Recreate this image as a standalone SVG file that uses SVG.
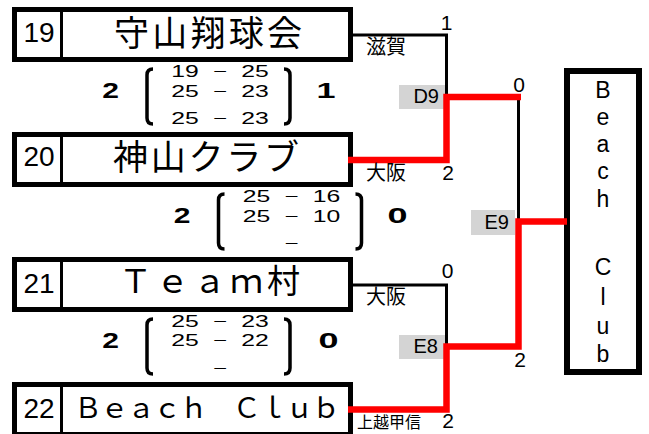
<svg xmlns="http://www.w3.org/2000/svg" width="649" height="434" viewBox="0 0 649 434">
<style>
.box{fill:#fff;stroke:#000;stroke-width:5}
.dv{stroke:#000;stroke-width:3}
.num{font-family:"Liberation Sans",Arial,sans-serif;font-size:28px;text-anchor:middle;fill:#000}
.name{font-family:"Noto Sans CJK JP","Noto Sans CJK SC",sans-serif;font-size:35px;text-anchor:middle;fill:#000}
.sc{font-family:"Liberation Sans",Arial,sans-serif;font-size:16.5px;text-anchor:middle;fill:#000}
.big{font-family:"Liberation Sans",Arial,sans-serif;font-size:22.5px;font-weight:bold;text-anchor:middle;fill:#000}
.br{fill:none;stroke:#000;stroke-width:3.5}
.ln{fill:none;stroke:#000;stroke-width:3}
.win{fill:none;stroke:#f00;stroke-width:6.5;stroke-linejoin:miter}
.lbl{font-family:"Noto Sans CJK JP","Noto Sans CJK SC",sans-serif;font-size:20px;fill:#000}
.tag{fill:#d4d4d4}
.tagt{font-family:"Liberation Sans",Arial,sans-serif;font-size:20px;text-anchor:end;fill:#000}
.rn{font-family:"Liberation Sans",Arial,sans-serif;font-size:21px;text-anchor:middle;fill:#000}
.vl{font-family:"Liberation Sans",Arial,sans-serif;font-size:23px;text-anchor:middle;fill:#000}
</style>

<g id="team19">
<rect class="box" x="14.5" y="9.5" width="336" height="50"/>
<line class="dv" x1="61.5" y1="12" x2="61.5" y2="57"/>
<text class="num" x="39" y="42">19</text>
<text class="name" x="208" y="46" textLength="188" lengthAdjust="spacing">守山翔球会</text>
</g>
<g id="team20">
<rect class="box" x="14.5" y="134.5" width="336" height="50"/>
<line class="dv" x1="61.5" y1="137" x2="61.5" y2="182"/>
<text class="num" x="39" y="166">20</text>
<text class="name" x="206" y="170" textLength="186" lengthAdjust="spacing">神山クラブ</text>
</g>
<g id="team21">
<rect class="box" x="14.5" y="259.5" width="336" height="50"/>
<line class="dv" x1="61.5" y1="262" x2="61.5" y2="307"/>
<text class="num" x="39" y="292.5">21</text>
<text class="name" x="209.5" y="293" style="font-size:33px" textLength="181" lengthAdjust="spacing">Ｔｅａｍ村</text>
</g>
<g id="team22">
<rect class="box" x="14.5" y="384.5" width="336" height="50"/>
<line class="dv" x1="61.5" y1="387" x2="61.5" y2="432"/>
<text class="num" x="39" y="417.5">22</text>
<text class="name" x="207" y="418" style="font-size:28px" textLength="266" lengthAdjust="spacing">Ｂｅａｃｈ　Ｃｌｕｂ</text>
</g>

<g id="match1" transform="translate(0,97)">
<text class="big" x="110.5" y="1" textLength="16.7" lengthAdjust="spacingAndGlyphs">2</text>
<path class="br" d="M153,-28 Q147,-28 147,-22 V21 Q147,27 153,27"/>
<text class="sc" x="185" y="-20.5" textLength="27.5" lengthAdjust="spacingAndGlyphs">19</text>
<text class="sc" x="220" y="-20.5" textLength="14" lengthAdjust="spacingAndGlyphs">−</text>
<text class="sc" x="255" y="-20.5" textLength="27.5" lengthAdjust="spacingAndGlyphs">25</text>
<text class="sc" x="185" y="-0.5" textLength="27.5" lengthAdjust="spacingAndGlyphs">25</text>
<text class="sc" x="220" y="-0.5" textLength="14" lengthAdjust="spacingAndGlyphs">−</text>
<text class="sc" x="255" y="-0.5" textLength="27.5" lengthAdjust="spacingAndGlyphs">23</text>
<text class="sc" x="185" y="27" textLength="27.5" lengthAdjust="spacingAndGlyphs">25</text>
<text class="sc" x="220" y="27" textLength="14" lengthAdjust="spacingAndGlyphs">−</text>
<text class="sc" x="255" y="27" textLength="27.5" lengthAdjust="spacingAndGlyphs">23</text>
<path class="br" d="M284,-28 Q290,-28 290,-22 V21 Q290,27 284,27"/>
<text class="big" x="326" y="1" textLength="19" lengthAdjust="spacingAndGlyphs">1</text>
</g>

<g id="match2" transform="translate(71.5,222)">
<text class="big" x="110.5" y="1" textLength="16.7" lengthAdjust="spacingAndGlyphs">2</text>
<path class="br" d="M153,-28 Q147,-28 147,-22 V21 Q147,27 153,27"/>
<text class="sc" x="185" y="-20.5" textLength="27.5" lengthAdjust="spacingAndGlyphs">25</text>
<text class="sc" x="220" y="-20.5" textLength="14" lengthAdjust="spacingAndGlyphs">−</text>
<text class="sc" x="255" y="-20.5" textLength="27.5" lengthAdjust="spacingAndGlyphs">16</text>
<text class="sc" x="185" y="-0.5" textLength="27.5" lengthAdjust="spacingAndGlyphs">25</text>
<text class="sc" x="220" y="-0.5" textLength="14" lengthAdjust="spacingAndGlyphs">−</text>
<text class="sc" x="255" y="-0.5" textLength="27.5" lengthAdjust="spacingAndGlyphs">10</text>
<text class="sc" x="220" y="27" textLength="14" lengthAdjust="spacingAndGlyphs">−</text>
<path class="br" d="M284,-28 Q290,-28 290,-22 V21 Q290,27 284,27"/>
<text class="big" x="326" y="1" textLength="20" lengthAdjust="spacingAndGlyphs">0</text>
</g>

<g id="match3" transform="translate(0,347)">
<text class="big" x="110.5" y="1" textLength="16.7" lengthAdjust="spacingAndGlyphs">2</text>
<path class="br" d="M153,-28 Q147,-28 147,-22 V21 Q147,27 153,27"/>
<text class="sc" x="185" y="-20.5" textLength="27.5" lengthAdjust="spacingAndGlyphs">25</text>
<text class="sc" x="220" y="-20.5" textLength="14" lengthAdjust="spacingAndGlyphs">−</text>
<text class="sc" x="255" y="-20.5" textLength="27.5" lengthAdjust="spacingAndGlyphs">23</text>
<text class="sc" x="185" y="-1.5" textLength="27.5" lengthAdjust="spacingAndGlyphs">25</text>
<text class="sc" x="220" y="-1.5" textLength="14" lengthAdjust="spacingAndGlyphs">−</text>
<text class="sc" x="255" y="-1.5" textLength="27.5" lengthAdjust="spacingAndGlyphs">22</text>
<text class="sc" x="220" y="27" textLength="14" lengthAdjust="spacingAndGlyphs">−</text>
<path class="br" d="M284,-28 Q290,-28 290,-22 V21 Q290,27 284,27"/>
<text class="big" x="328.5" y="1" textLength="20" lengthAdjust="spacingAndGlyphs">0</text>
</g>

<g id="D9">
<rect class="tag" x="399" y="85" width="46" height="24"/>
<text class="tagt" x="439" y="103">D9</text>
</g>
<g id="E8">
<rect class="tag" x="399" y="335" width="46" height="24"/>
<text class="tagt" x="438" y="352.5">E8</text>
</g>
<g id="E9">
<rect class="tag" x="471" y="210" width="44" height="25"/>
<text class="tagt" x="509" y="229">E9</text>
</g>

<g id="winner">
<rect class="box" x="567" y="71" width="72" height="301" style="stroke-width:6"/>
<text class="vl" x="603" y="98">B</text>
<text class="vl" x="603" y="124.5">e</text>
<text class="vl" x="603" y="151.5">a</text>
<text class="vl" x="603" y="178.5">c</text>
<text class="vl" x="603" y="207">h</text>
<text class="vl" x="603" y="275">C</text>
<text class="vl" x="603" y="305">l</text>
<text class="vl" x="603" y="333.5">u</text>
<text class="vl" x="603" y="362">b</text>
</g>

<g id="connectors">
<path class="ln" d="M353,35 H446.5 V97"/>
<path class="ln" d="M353,285 H446.5 V347"/>
<path class="ln" d="M518.5,97 V222"/>
<path class="win" d="M348,160 H446.5 V97 H521"/>
<path class="win" d="M348,409.5 H446.5 V346.5 H518.5 V221.5 H567"/>
</g>

<g id="labels">
<text class="rn" x="446.5" y="30">1</text>
<text class="lbl" x="366" y="54">滋賀</text>
<text class="rn" x="448" y="180">2</text>
<text class="lbl" x="366" y="179.5">大阪</text>
<text class="rn" x="519" y="92">0</text>
<text class="rn" x="447.5" y="278">0</text>
<text class="lbl" x="366" y="304">大阪</text>
<text class="rn" x="520" y="367">2</text>
<text class="rn" x="448" y="428">2</text>
<text class="lbl" x="357" y="427.5" style="font-size:16px">上越甲信</text>
</g>
</svg>
